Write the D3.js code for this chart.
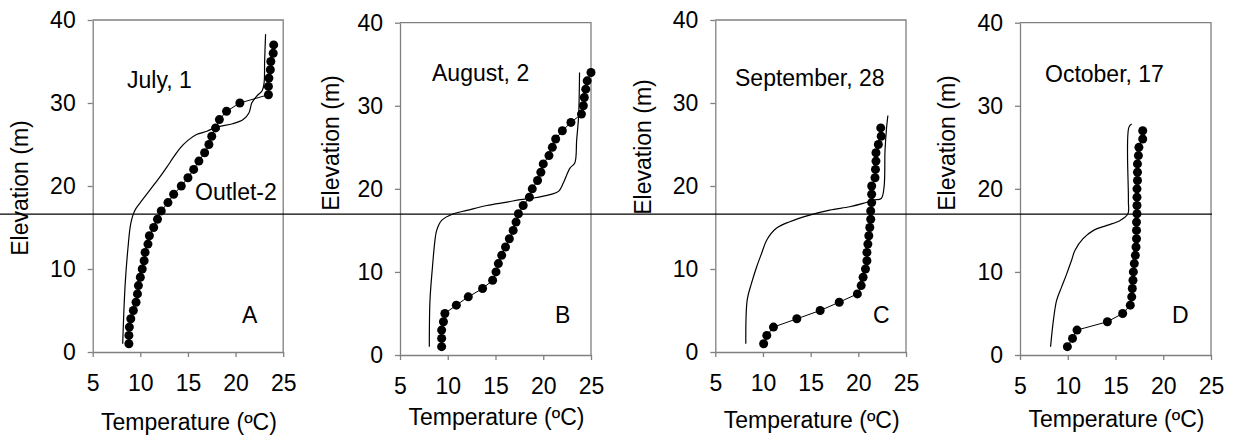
<!DOCTYPE html>
<html>
<head>
<meta charset="utf-8">
<script src="https://cdn.jsdelivr.net/npm/d3@7"></script>
<style>
    body { margin: 0; background: #fff; }
    svg { display: block; font-family: "Liberation Sans", Arial, sans-serif; }
    .axis path, .axis line { stroke: #808080; stroke-width: 1.3; }
    .axis text { font-size: 23px; fill: #000; font-family: "Liberation Sans", Arial, sans-serif; }
    .frame { stroke: #808080; stroke-width: 1.3; fill: none; }
    .label { font-size: 23px; fill: #000; }
</style>
</head>
<body>
<svg id="chart" width="1233" height="442"></svg>
<script>
// panel titles and letters
const panelDates = ["July, 1", "August, 2", "September, 28", "October, 17"]
const panelLetters = ["A", "B", "C", "D"]
const xTicks = [5, 10, 15, 20, 25]
const yTicks = [0, 10, 20, 30, 40]
const outletName = "Outlet-2"
const outletElevation = 16.6

// measured elevations (m), one reading per metre
const elevations = [1, 2, 3, 4, 5, 6, 7, 8, 9, 10, 11, 12, 13, 14, 15, 16, 17, 18, 19,
    20, 21, 22, 23, 24, 25, 26, 27, 28, 29, 30, 31, 32, 33, 34, 35, 36, 37]

// measured temperatures (degC), from the bottom up
const measuredA = [8.8, 8.8, 8.85, 9.0, 9.27, 9.55, 9.7, 9.8, 10.0, 10.2, 10.4, 10.5, 10.8,
    10.95, 11.4, 11.8, 12.2, 12.9, 13.5, 14.3, 15.0, 15.6, 16.15, 16.75, 17.2, 17.5, 17.9,
    18.3, 19.05, 20.45, 23.45, 23.45, 23.5, 23.65, 23.7, 23.95, 24.0]
const measuredB = [9.36, 9.36, 9.36, 9.55, 9.7, 10.9, 12.15, 13.65, 14.7, 15.05, 15.3, 15.65,
    16.05, 16.45, 16.85, 17.15, 17.4, 17.9, 18.55, 18.85, 19.4, 19.75, 20.0, 20.6, 20.95,
    21.3, 22.0, 22.9, 24.0, 24.2, 24.3, 24.45, 24.6, 25.0]
const measuredC = [10.07, 10.4, 11.1, 13.55, 16.0, 18.0, 19.9, 20.3, 20.5, 20.75, 20.9, 20.9,
    21.0, 21.1, 21.2, 21.3, 21.3, 21.4, 21.4, 21.4, 21.75, 21.8, 21.85, 21.85, 22.1, 22.4, 22.35]
const measuredD = [9.96, 10.5, 10.97, 14.15, 15.75, 16.55, 16.7, 16.76, 16.83, 16.87, 16.97,
    17.08, 17.15, 17.2, 17.2, 17.2, 17.25, 17.25, 17.25, 17.25, 17.3, 17.3, 17.3, 17.4,
    17.45, 17.85, 17.85]

// simulated profiles: [temperature, elevation]
const simulatedA = [[8.15, 1], [8.4, 8], [8.7, 12.5], [9.0, 15.5], [9.4, 17], [10.0, 18],
    [11.0, 19.5], [12.0, 21], [12.8, 22.3], [13.5, 23.5], [14.2, 24.6], [15.0, 25.5],
    [15.9, 26.2], [17.0, 26.6], [18.0, 27.1], [19.7, 27.5], [20.8, 28], [21.4, 28.8],
    [21.7, 30], [22.2, 30.8], [22.8, 31.5], [23.0, 32.5], [23.05, 35], [23.15, 38.3]]
const simulatedB = [[8.07, 1], [8.14, 6.6], [8.4, 10.6], [8.66, 13.8], [8.84, 15],
    [9.36, 16.2], [10.6, 17], [12.0, 17.4], [14.1, 18.0], [16.2, 18.4], [17.6, 18.7],
    [19.0, 18.9], [20.7, 19.3], [21.6, 19.7], [22.1, 20.7], [22.8, 22.5], [23.3, 23.1],
    [23.5, 25.9], [23.7, 28.7], [23.8, 34]]
const simulatedC = [[8.2, 1], [8.35, 6.3], [8.8, 8.3], [9.35, 10.3], [9.86, 11.9],
    [10.4, 13.5], [11.4, 14.9], [12.8, 15.7], [14.9, 16.5], [17.0, 17.1], [19.1, 17.5],
    [20.5, 17.9], [21.6, 18.3], [22.4, 18.5], [22.7, 19.9], [22.8, 24.3], [22.97, 27.1],
    [23.1, 28.5]]
const simulatedD = [[8.2, 1], [8.5, 4.2], [8.84, 6.6], [9.36, 8.2], [9.9, 9.8], [10.4, 11.4],
    [10.76, 12.6], [11.6, 14], [12.7, 15], [14.1, 15.6], [15.5, 16.2], [16.3, 17.0],
    [16.35, 18.6], [16.4, 27.4], [16.7, 27.8]]

;(function () {
    const svg = d3.select("#chart")

    // where each small plot sits on the page
    const layout = [
        { left: 92.7, top: 20, right: 283.2, bottom: 352, yLabel: [28, 188], xLabelY: 430, date: [127, 88], letter: [242, 323] },
        { left: 400, top: 22.7, right: 591, bottom: 355, yLabel: [339, 143], xLabelY: 425, date: [432, 81], letter: [555, 323] },
        { left: 715.3, top: 20, right: 906, bottom: 352, yLabel: [651, 147], xLabelY: 428, date: [735, 86], letter: [873, 323] },
        { left: 1020, top: 22.7, right: 1211, bottom: 355, yLabel: [955, 143], xLabelY: 427, date: [1045, 82], letter: [1172, 323] }
    ]

    const measured = [measuredA, measuredB, measuredC, measuredD]
    const simulated = [simulatedA, simulatedB, simulatedC, simulatedD]

    const scales = []

    layout.forEach(function (p, i) {
        const x = d3.scaleLinear().domain([5, 25]).range([p.left, p.right])
        const y = d3.scaleLinear().domain([0, 40]).range([p.bottom, p.top])
        scales.push({ x, y })

        const g = svg.append("g")

        // top and right border of the plot area
        g.append("path")
            .attr("class", "frame")
            .attr("d", `M${p.left},${p.top}H${p.right}V${p.bottom}`)

        g.append("g")
            .attr("class", "axis y-axis")
            .attr("transform", `translate(${p.left},0)`)
            .call(d3.axisLeft(y).tickValues(yTicks).tickSize(5).tickSizeOuter(0).tickPadding(12))

        g.append("g")
            .attr("class", "axis x-axis")
            .attr("transform", `translate(0,${p.bottom})`)
            .call(d3.axisBottom(x).tickValues(xTicks).tickSize(5).tickSizeOuter(0).tickPadding(18))

        g.selectAll(".axis .domain").attr("stroke", "#808080")

        // simulated profile
        const simLine = d3.line()
            .x(d => x(d[0]))
            .y(d => y(d[1]))
            .curve(d3.curveCatmullRom.alpha(0.5))

        g.append("path")
            .datum(simulated[i])
            .attr("fill", "none")
            .attr("stroke", "#000")
            .attr("stroke-width", 1.2)
            .attr("d", simLine)

        // measured profile
        const points = measured[i].map((t, k) => [t, elevations[k]])
        const obsLine = d3.line()
            .x(d => x(d[0]))
            .y(d => y(d[1]))

        g.append("path")
            .datum(points)
            .attr("fill", "none")
            .attr("stroke", "#000")
            .attr("stroke-width", 1)
            .attr("d", obsLine)

        g.selectAll("circle")
            .data(points)
            .enter()
            .append("circle")
            .attr("cx", d => x(d[0]))
            .attr("cy", d => y(d[1]))
            .attr("r", 4.5)
            .attr("fill", "#000")

        g.append("text")
            .attr("class", "label")
            .attr("transform", `translate(${p.yLabel[0]},${p.yLabel[1]}) rotate(-90)`)
            .attr("text-anchor", "middle")
            .text("Elevation (m)")

        g.append("text")
            .attr("class", "label")
            .attr("x", (p.left + p.right) / 2 + 1)
            .attr("y", p.xLabelY)
            .attr("text-anchor", "middle")
            .text("Temperature (ºC)")

        g.append("text")
            .attr("class", "label")
            .attr("x", p.date[0])
            .attr("y", p.date[1])
            .text(panelDates[i])

        g.append("text")
            .attr("class", "label")
            .attr("x", p.letter[0])
            .attr("y", p.letter[1])
            .text(panelLetters[i])
    })

    // outlet level across all panels
    const yA = scales[0].y
    svg.append("line")
        .attr("x1", 0)
        .attr("x2", 1212)
        .attr("y1", yA(outletElevation))
        .attr("y2", yA(outletElevation))
        .attr("stroke", "#000")
        .attr("stroke-width", 1.3)

    svg.append("text")
        .attr("class", "label")
        .attr("x", 195)
        .attr("y", 200)
        .text(outletName)
})()
</script>
</body>
</html>
